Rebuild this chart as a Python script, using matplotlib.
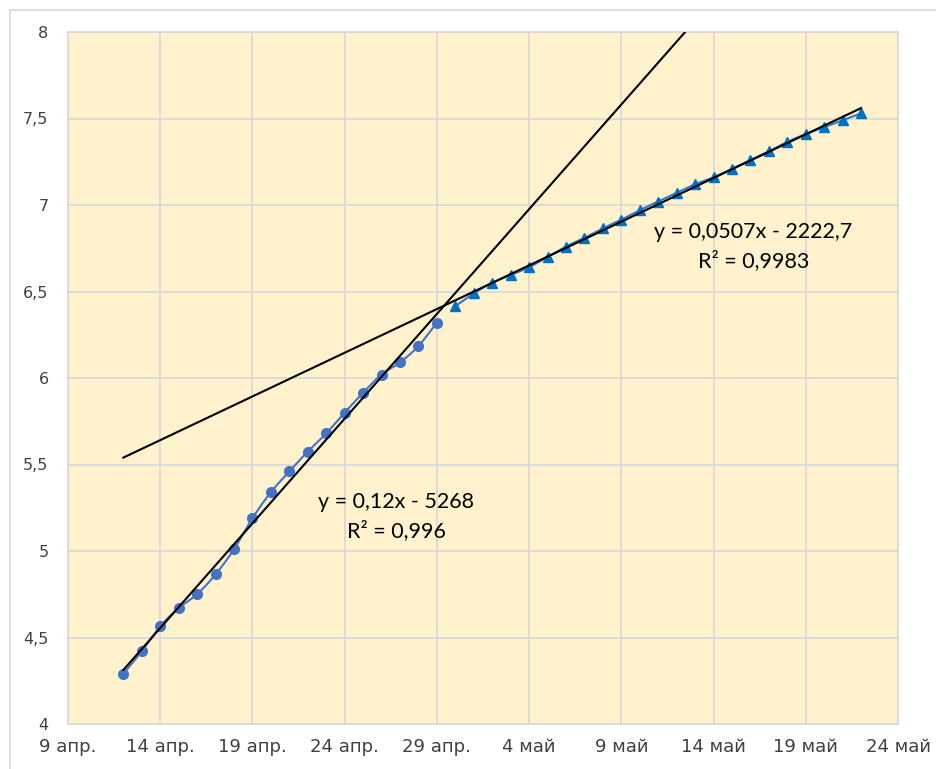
import numpy as np
import matplotlib
matplotlib.use("Agg")
import matplotlib.pyplot as plt
import matplotlib.dates as mdates
from matplotlib.patches import Rectangle
import datetime as dt

# data
start1 = dt.date(2020, 4, 12)
vals1 = [4.29, 4.42, 4.565, 4.67, 4.75, 4.865, 5.01, 5.19, 5.34, 5.46,
         5.575, 5.68, 5.80, 5.915, 6.02, 6.09, 6.185, 6.32]
start2 = dt.date(2020, 4, 30)
vals2 = [6.415, 6.49, 6.55, 6.595, 6.64, 6.70, 6.76, 6.81, 6.865, 6.915,
         6.97, 7.02, 7.07, 7.12, 7.16, 7.21, 7.26, 7.31, 7.365, 7.41,
         7.45, 7.49, 7.53]
tick_dates = [dt.date(2020, 4, 9) + dt.timedelta(days=5 * i) for i in range(10)]
tick_labels = ['9 апр.', '14 апр.', '19 апр.', '24 апр.', '29 апр.',
               '4 май', '9 май', '14 май', '19 май', '24 май']
eq1 = 'y = 0,12x - 5268\nR² = 0,996'
eq2 = 'y = 0,0507x - 2222,7\nR² = 0,9983'

x1 = mdates.date2num([start1 + dt.timedelta(days=i) for i in range(len(vals1))])
x2 = mdates.date2num([start2 + dt.timedelta(days=i) for i in range(len(vals2))])
y1 = np.array(vals1)
y2 = np.array(vals2)


def smooth(x, y, n=12):
    # catmull-rom curve through the points (like excel's smoothed line)
    px = np.concatenate([[2 * x[0] - x[1]], x, [2 * x[-1] - x[-2]]])
    py = np.concatenate([[2 * y[0] - y[1]], y, [2 * y[-1] - y[-2]]])
    t = np.linspace(0, 1, n)[:, None]
    out_x, out_y = [], []
    for i in range(1, len(px) - 2):
        for p, out in ((px, out_x), (py, out_y)):
            p0, p1, p2, p3 = p[i - 1], p[i], p[i + 1], p[i + 2]
            c = 0.5 * ((2 * p1) + (-p0 + p2) * t + (2 * p0 - 5 * p1 + 4 * p2 - p3) * t ** 2
                       + (-p0 + 3 * p1 - 3 * p2 + p3) * t ** 3)
            out.extend(c.ravel())
    return np.array(out_x), np.array(out_y)


fig = plt.figure(figsize=(9.37, 7.69), dpi=100)
fig.patches.append(Rectangle((10 / 937, -0.1), 1.2, 1 - 10 / 769 + 0.1, transform=fig.transFigure,
                             fill=False, edgecolor='#D9D9D9', linewidth=1.2))
ax = fig.add_axes([68 / 937, 1 - 724 / 769, 830 / 937, 692 / 769])
ax.set_facecolor('#FFF2CC')

# trend lines (linear fit, forecast forward / backward like excel)
k1, b1 = np.polyfit(x1, y1, 1)
tx1 = np.array([x1[0], x1[-1] + 15])
ax.plot(tx1, k1 * tx1 + b1, color='black', lw=1.5, zorder=4)
k2, b2 = np.polyfit(x2, y2, 1)
tx2 = np.array([x1[0], x2[-1]])
ax.plot(tx2, k2 * tx2 + b2, color='black', lw=1.5, zorder=4)

sx, sy = smooth(x1, y1)
ax.plot(sx, sy, color='#4472C4', lw=1.5, zorder=3)
ax.plot(x1, y1, 'o', color='#4472C4', ms=7, zorder=3)
sx, sy = smooth(x2, y2)
ax.plot(sx, sy, color='#2E75D0', lw=1.5, zorder=3)
ax.plot(x2, y2, '^', color='#0070C0', ms=7.5, zorder=3)

ax.text(mdates.date2num(dt.date(2020, 4, 26)) + 0.8, 5.2, eq1, ha='center', va='center',
        fontsize=15.5, family=['Lato', 'DejaVu Sans'], linespacing=1.45)
ax.text(mdates.date2num(dt.date(2020, 5, 16)) + 0.15, 6.76, eq2, ha='center', va='center',
        fontsize=15.5, family=['Lato', 'DejaVu Sans'], linespacing=1.45)

ax.set_xlim(mdates.date2num(tick_dates[0]), mdates.date2num(tick_dates[-1]))
ax.set_ylim(4, 8)
ax.set_xticks(mdates.date2num(tick_dates))
ax.set_xticklabels(tick_labels, family=['Liberation Sans Narrow', 'DejaVu Sans'], fontsize=13)
ax.set_yticks(np.arange(4, 8.01, 0.5))
ax.set_yticklabels([('%g' % v).replace('.', ',') for v in np.arange(4, 8.01, 0.5)], fontsize=11.5)
ax.tick_params(length=0, colors='#404040', pad=10)
ax.tick_params(axis='y', pad=14)
ax.grid(True, color='#D9D9D9', lw=1.3)
ax.set_axisbelow(True)
for s in ax.spines.values():
    s.set_color('#D9D9D9')
    s.set_linewidth(1.3)

fig.savefig('out.png', dpi=100)
